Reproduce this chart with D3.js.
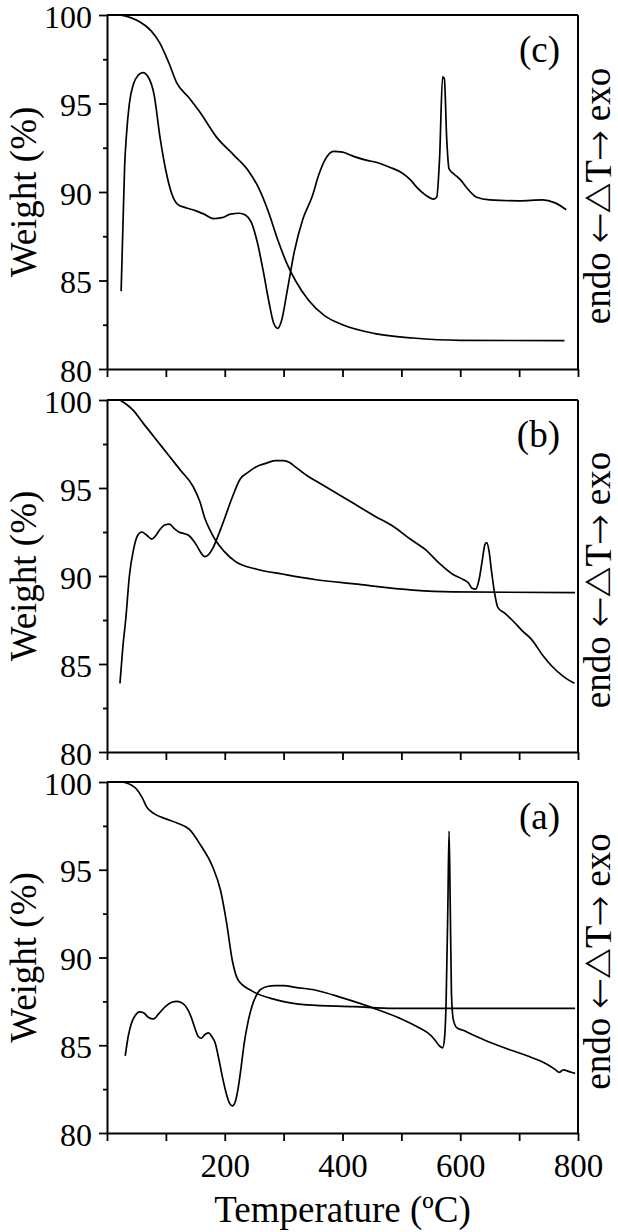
<!DOCTYPE html>
<html><head><meta charset="utf-8">
<script src="https://cdn.jsdelivr.net/npm/d3@7"></script>
<style>
body{margin:0;background:#fff}
svg{display:block}
</style>
</head><body>
<svg id="chart" width="618" height="1232"></svg>
<script>
// ---------- data ----------
const panelNames = ["(c)", "(b)", "(a)"];
const xTickValues = [0, 100, 200, 300, 400, 500, 600, 700, 800];
const xTickLabels = [200, 400, 600, 800];
const yTickValues = [80, 82.5, 85, 87.5, 90, 92.5, 95, 97.5, 100];
const yTickLabels = [80, 85, 90, 95, 100];
const xTitle = "Temperature (ºC)";
const yTitle = "Weight (%)";
const rightTitle = ["endo ", "\u2190", "\u25B3T", "\u2192", " exo"];

// [temperature, value]
const tgC = [[22,100],[40,99.85],[56,99.6],[75,99.1],[90,98.4],[105,97.3],[118,96.2],[140,95.3],[158,94.5],[186,93.1],[215,92.1],[240,91.2],[258,90.2],[275,88.8],[290,87.3],[305,86.0],[320,85.0],[342,83.9],[370,83.0],[400,82.5],[455,82.0],[520,81.75],[600,81.62],[777,81.6]];
const dtaC = [[24,84.4],[27,88],[30,91.5],[33,93.2],[38,95.0],[45,96.1],[53,96.6],[61,96.75],[70,96.5],[80,95.5],[90,93.1],[100,91.2],[110,89.9],[120,89.3],[135,89.1],[150,88.95],[165,88.75],[180,88.5],[195,88.55],[210,88.75],[225,88.8],[235,88.7],[245,88.3],[255,87.2],[265,85.6],[275,83.8],[283,82.6],[290,82.3],[297,82.8],[306,84.4],[318,86.6],[333,88.5],[348,89.7],[360,91.0],[370,91.8],[385,92.3],[400,92.25],[420,92.0],[440,91.8],[460,91.65],[480,91.4],[500,91.1],[515,90.7],[528,90.2],[540,89.85],[555,89.6],[560,89.7],[565,92],[570,96.5],[573,96.4],[577,93],[581,91.3],[590,91.0],[600,90.7],[612,90.2],[628,89.7],[650,89.55],[700,89.5],[740,89.55],[760,89.4],[780,89.0]];
const tgB = [[22,100],[35,99.7],[45,99.4],[61,98.7],[80,97.9],[106,96.8],[125,96.0],[146,95.1],[158,94.2],[166,93.3],[175,92.6],[183,92.1],[199,91.4],[219,90.8],[253,90.4],[300,90.1],[353,89.8],[420,89.55],[520,89.2],[587,89.1],[795,89.05]];
const dtaB = [[22,83.9],[27,86],[32,87.6],[38,90],[45,91.5],[52,92.3],[59,92.5],[68,92.3],[76,92.1],[83,92.3],[89,92.6],[98,92.9],[106,92.95],[114,92.7],[122,92.5],[132,92.4],[139,92.3],[147,92.0],[153,91.7],[160,91.3],[166,91.1],[172,91.2],[180,91.6],[190,92.4],[199,93.2],[212,94.4],[226,95.5],[240,95.9],[253,96.2],[270,96.4],[285,96.55],[300,96.55],[310,96.45],[320,96.2],[340,95.7],[360,95.3],[390,94.7],[420,94.1],[455,93.4],[487,92.8],[515,92.1],[541,91.5],[565,90.7],[587,90.1],[605,89.8],[614,89.6],[620,89.3],[626,89.25],[632,89.8],[637,90.8],[642,91.8],[645,91.9],[649,91.4],[653,90.3],[658,89.1],[664,88.2],[675,87.9],[688,87.5],[705,86.9],[721,86.4],[740,85.5],[755,84.9],[775,84.3],[794,83.9]];
const tgA = [[27,100],[40,99.85],[50,99.6],[60,99.1],[67,98.6],[80,98.2],[100,97.9],[120,97.65],[140,97.3],[159,96.4],[179,95.2],[193,93.8],[203,92.0],[213,89.8],[223,88.7],[246,88.1],[286,87.6],[340,87.3],[420,87.2],[487,87.1],[795,87.1]];
const dtaA = [[31,84.4],[36,85.5],[41,86.2],[48,86.7],[55,86.9],[62,86.85],[70,86.6],[79,86.5],[88,86.8],[99,87.2],[110,87.45],[119,87.5],[128,87.4],[136,87.1],[143,86.6],[149,86.0],[155,85.5],[160,85.4],[166,85.6],[172,85.7],[178,85.5],[184,85.1],[190,84.2],[196,83.2],[203,82.2],[208,81.7],[213,81.55],[218,81.8],[223,82.6],[228,83.8],[233,85.1],[240,86.4],[246,87.2],[253,87.8],[260,88.15],[272,88.35],[286,88.4],[300,88.4],[320,88.3],[353,88.15],[400,87.7],[454,87.1],[500,86.5],[530,86.0],[545,85.7],[557,85.3],[565,84.95],[570,84.85],[573,85.3],[576,87.5],[579,93],[581,97.2],[583,93],[585,88],[588,86.5],[594,86.0],[605,85.85],[621,85.6],[648,85.2],[688,84.7],[721,84.3],[748,83.9],[762,83.6],[768,83.45],[775,83.6],[785,83.5],[795,83.4]];

const panelSeries = [[tgC, dtaC], [tgB, dtaB], [tgA, dtaA]];

// ---------- layout ----------
const FONT = "'Liberation Serif'";
const ARROWFONT = "'FreeSerif'";
const left = 107, right = 578;
const tops = [15, 400, 782];
const bottoms = [369, 752, 1133];

const svg = d3.select("#chart");
const x = d3.scaleLinear().domain([0, 800]).range([left, right]);

panelNames.forEach((name, i) => {
  const y = d3.scaleLinear().domain([80, 100]).range([bottoms[i], tops[i]]);
  const g = svg.append("g");

  const line = d3.line().x(d => x(d[0])).y(d => y(d[1])).curve(d3.curveMonotoneX);
  panelSeries[i].forEach(s => {
    g.append("path").datum(s).attr("d", line)
      .attr("fill", "none").attr("stroke", "#000").attr("stroke-width", 1.7)
      .attr("stroke-linejoin", "round");
  });

  g.append("line").attr("x1", left).attr("x2", right).attr("y1", tops[i]).attr("y2", tops[i])
    .attr("stroke", "#000").attr("stroke-width", 2);
  g.append("line").attr("x1", right).attr("x2", right).attr("y1", tops[i]).attr("y2", bottoms[i])
    .attr("stroke", "#000").attr("stroke-width", 2);

  const isBottom = i === 2;
  const xAxis = d3.axisBottom(x).tickValues(xTickValues).tickSizeInner(8).tickSizeOuter(0)
    .tickFormat(d => (isBottom && xTickLabels.includes(d)) ? String(d) : "");
  const gx = g.append("g").attr("transform", `translate(0,${bottoms[i]})`).call(xAxis);
  gx.attr("font-family", FONT).attr("font-size", 33);
  gx.select(".domain").attr("stroke-width", 2);
  gx.selectAll(".tick line").attr("stroke-width", 1.8);
  gx.selectAll(".tick text").style("font-family", FONT).style("font-size", "33px")
    .attr("dy", null).attr("y", 44).attr("fill", "#000");

  const yAxis = d3.axisLeft(y).tickValues(yTickValues).tickSizeOuter(0)
    .tickFormat(d => yTickLabels.includes(d) ? String(d) : "");
  const gy = g.append("g").attr("transform", `translate(${left},0)`).call(yAxis);
  gy.attr("font-family", FONT).attr("font-size", 32);
  gy.select(".domain").attr("stroke-width", 2);
  gy.selectAll(".tick line")
    .attr("x2", d => yTickLabels.includes(d) ? -8 : -4)
    .attr("stroke-width", 1.8);
  gy.selectAll(".tick text").style("font-family", FONT).style("font-size", "32px")
    .attr("x", -15).attr("dy", "0.38em").attr("fill", "#000");

  g.append("text").attr("x", 560).attr("y", tops[i] + 47)
    .attr("text-anchor", "end").style("font-family", FONT).style("font-size", "37px").text(name);

  const cy = (tops[i] + bottoms[i]) / 2;
  g.append("text").attr("transform", `translate(36,${cy}) rotate(-90)`)
    .attr("text-anchor", "middle").style("font-family", FONT).style("font-size", "37px").text(yTitle);

  const rt = g.append("text").attr("transform", `translate(610,${cy + 4}) rotate(-90)`)
    .attr("text-anchor", "middle").style("font-family", FONT).style("font-size", "37px");
  rightTitle.forEach(s => {
    const t = rt.append("tspan").text(s);
    if (s === "\u2190" || s === "\u2192" || s === "\u25B3T") t.style("font-family", ARROWFONT);
  });
});

svg.append("text").attr("x", (left + right) / 2).attr("y", 1222)
  .attr("text-anchor", "middle").style("font-family", FONT).style("font-size", "37px").text(xTitle);
</script>
</body></html>
